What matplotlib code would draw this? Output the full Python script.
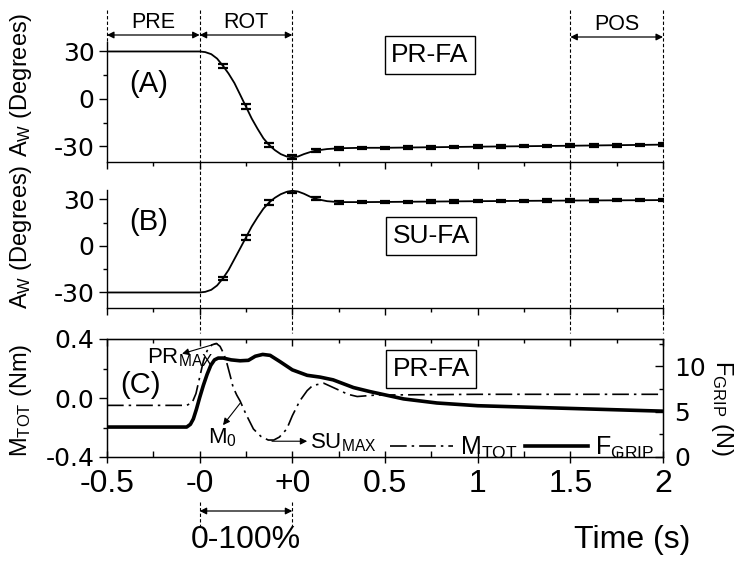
import matplotlib
matplotlib.use('Agg')
import matplotlib.pyplot as plt
from matplotlib import font_manager
from matplotlib.lines import Line2D
from matplotlib.transforms import blended_transform_factory
from matplotlib.ticker import FixedLocator


def has_font(name):
    try:
        font_manager.findfont(name, fallback_to_default=False)
        return True
    except ValueError:
        return False


narrow = 'Liberation Sans Narrow' if has_font('Liberation Sans Narrow') else 'Liberation Sans'

plt.rcParams['font.family'] = ['Liberation Sans', 'DejaVu Sans']
plt.rcParams['mathtext.default'] = 'regular'

# x is the position on the common axis: PRE (-0.5..-0 s) -> 0..0.5,
# ROT (0-100 %) -> 0.5..1.0, POS time (+0..2 s) -> 1.0..3.0
x_ticks = [0, 0.5, 1.0, 1.5, 2.0, 2.5, 3.0]
x_minor = [0.25, 0.75, 1.25, 1.75, 2.25, 2.75]
x_labels = ['-0.5', '-0', '+0', '0.5', '1', '1.5', '2']
phase_edges = [0, 0.5, 1.0, 2.5, 3.0]
phase_names = ['PRE', 'ROT', 'POS']
phase_spans = [(0, 0.5), (0.5, 1.0), (2.5, 3.0)]

# (A) PR-FA wrist angle, mean curve
a_x = [0, 0.5, 0.53, 0.5625, 0.594, 0.625, 0.656, 0.6875, 0.719, 0.75, 0.781,
       0.8125, 0.844, 0.875, 0.906, 0.9375, 0.969, 1.0, 1.031, 1.0625, 1.094,
       1.125, 1.1875, 1.25, 1.375, 1.5, 2.0, 2.5, 3.0]
a_y = [30, 30, 29.6, 28.3, 25.5, 21, 16, 10, 2.5, -5, -12.5,
       -19, -25, -29.3, -32.5, -35, -36.5, -37, -36.5, -35, -33.8,
       -32.8, -31.8, -31.3, -31, -31, -30.3, -29.7, -29]

# (B) SU-FA wrist angle, mean curve
b_x = a_x
b_y = [-30, -30, -29.6, -28.3, -25.5, -21, -15.5, -8.5, -1.5, 5.5, 12.5,
       18.5, 24, 28, 31, 33.3, 34.8, 35.5, 35, 33.6, 31.8,
       30.3, 28.8, 28.2, 28.2, 28.3, 28.8, 29.2, 29.5]

# error bar samples
bar_x = [0.625, 0.75, 0.875, 1.0, 1.125, 1.25, 1.375, 1.5, 1.625, 1.75,
         1.875, 2.0, 2.125, 2.25, 2.375, 2.5, 2.625, 2.75, 2.875, 3.0]
a_bar = [21, -5, -29.3, -37, -32.8, -31.3, -31, -31, -30.8, -30.7,
         -30.5, -30.3, -30.2, -30, -29.9, -29.7, -29.5, -29.4, -29.2, -29]
a_err = [1.2, 1.5, 1.5, 1.3, 1.0, 0.9, 0.8, 0.8, 0.8, 0.8,
         0.8, 0.8, 0.8, 0.8, 0.8, 0.8, 0.8, 0.8, 0.8, 0.8]
b_bar = [-21, 5.5, 28, 35.5, 30.3, 28.2, 28.2, 28.3, 28.4, 28.5,
         28.6, 28.8, 28.9, 29, 29.1, 29.2, 29.3, 29.4, 29.4, 29.5]
b_err = a_err

# (C) total moment (Nm) and grip force (N)
m_x = [0, 0.43, 0.46, 0.48, 0.5, 0.52, 0.54, 0.565, 0.59, 0.61, 0.63, 0.646,
       0.665, 0.68, 0.7, 0.718, 0.75, 0.79, 0.83, 0.87, 0.9, 0.93, 0.97, 1.0,
       1.04, 1.08, 1.11, 1.17, 1.24, 1.3, 1.35, 1.45, 2.0, 3.0]
m_y = [-0.05, -0.05, -0.03, 0.03, 0.14, 0.25, 0.32, 0.36, 0.37, 0.35, 0.3, 0.24,
       0.15, 0.075, 0.02, -0.02, -0.11, -0.21, -0.26, -0.285, -0.285, -0.265, -0.21, -0.12,
       -0.02, 0.05, 0.085, 0.1, 0.06, 0.025, 0.01, 0.02, 0.025, 0.025]
f_x = [0, 0.43, 0.45, 0.466, 0.483, 0.5, 0.52, 0.54, 0.56, 0.58, 0.6, 0.627,
       0.67, 0.718, 0.763, 0.8, 0.84, 0.88, 0.934, 1.0, 1.08, 1.15, 1.22, 1.33,
       1.42, 1.6, 1.78, 2.0, 2.5, 3.0]
f_y = [3.3, 3.3, 3.6, 4.2, 5.3, 6.55, 7.9, 9.1, 10.1, 10.7, 10.9, 10.9,
       10.7, 10.6, 10.65, 11.1, 11.3, 11.2, 10.5, 9.6, 9.0, 8.8, 8.5, 7.65,
       7.2, 6.4, 5.95, 5.65, 5.35, 5.05]

fig = plt.figure(figsize=(7.41, 5.61), dpi=100)
L, W = 107 / 741, 556 / 741
axA = fig.add_axes([L, 1 - 162 / 561, W, 120 / 561])
axB = fig.add_axes([L, 1 - 308 / 561, W, 118 / 561])
axC = fig.add_axes([L, 1 - 457 / 561, W, 118 / 561])
axF = axC.twinx()

ytick_font = dict(family='DejaVu Sans', size=18)

for ax in (axA, axB, axC):
    ax.set_xlim(0, 3)
    ax.xaxis.set_major_locator(FixedLocator(x_ticks))
    ax.xaxis.set_minor_locator(FixedLocator(x_minor))
    ax.tick_params(axis='y', which='major', direction='out', length=6, width=1, pad=3)
    ax.tick_params(axis='y', which='minor', direction='out', length=3, width=1)
    for s in ax.spines.values():
        s.set_linewidth(1)

for ax, y, bar, err, name, lab, lab_y, ylab_y in (
        (axA, a_y, a_bar, a_err, 'PR-FA', '(A)', 0.65, 0.64),
        (axB, b_y, b_bar, b_err, 'SU-FA', '(B)', 0.73, 0.6)):
    ax.plot(a_x, y, color='black', lw=1.3)
    ax.errorbar(bar_x, bar, yerr=err, fmt='none', ecolor='black', elinewidth=1,
                capsize=3.5, capthick=1.6)
    ax.set_ylim(-40, 36)
    ax.set_yticks([-30, 0, 30])
    ax.set_yticklabels(['-30', '0', '30'], fontdict=ytick_font)
    ax.set_yticks([-15, 15], minor=True)
    ax.spines['top'].set_visible(False)
    ax.spines['right'].set_visible(False)
    ax.tick_params(axis='x', which='both', direction='out', labelbottom=False, top=False)
    ax.tick_params(axis='x', which='major', length=5, width=1)
    ax.tick_params(axis='x', which='minor', length=3, width=1)
    ax.set_ylabel('A$_W$ (Degrees)', fontsize=17, va='center')
    ax.yaxis.set_label_coords(-0.155, ylab_y)
    ax.text(0.075, lab_y, lab, transform=ax.transAxes, ha='center', va='center', fontsize=21)

axA.text(0.581, 0.892, 'PR-FA', transform=axA.transAxes, ha='center', va='center',
         fontsize=19, clip_on=False,
         bbox=dict(boxstyle='square,pad=0.25', fc='white', ec='black', lw=1))
axB.text(0.583, 0.61, 'SU-FA', transform=axB.transAxes, ha='center', va='center',
         fontsize=19, bbox=dict(boxstyle='square,pad=0.25', fc='white', ec='black', lw=1))

# (C)
lm, = axC.plot(m_x, m_y, color='black', lw=1.2, ls=(0, (10, 3, 1.5, 3)))
lf, = axF.plot(f_x, f_y, color='black', lw=2.6)
axC.set_ylim(-0.4, 0.4)
axC.set_yticks([-0.4, 0, 0.4])
axC.set_yticklabels(['-0.4', '0.0', '0.4'], fontdict=ytick_font)
axC.set_yticks([-0.2, 0.2], minor=True)
axC.set_xticklabels(x_labels, family=narrow, fontsize=23)
axC.tick_params(axis='x', which='major', direction='inout', length=9, width=1, pad=4)
axC.tick_params(axis='x', which='minor', direction='in', length=4, width=1)
top = axC.secondary_xaxis('top')
top.xaxis.set_major_locator(FixedLocator(x_ticks))
top.xaxis.set_minor_locator(FixedLocator(x_minor))
top.tick_params(axis='x', which='both', direction='in', labeltop=False, width=1)
top.tick_params(axis='x', which='major', length=5)
top.tick_params(axis='x', which='minor', length=3)
axC.set_ylabel('M$_{TOT}$ (Nm)', fontsize=17, va='center')
axC.yaxis.set_label_coords(-0.155, 0.48)

axF.set_ylim(0, 13)
axF.set_yticks([0, 5, 10])
axF.set_yticklabels(['0', '5', '10'], fontdict=ytick_font)
axF.set_yticks([2.5, 7.5, 12.5], minor=True)
axF.tick_params(axis='y', which='major', direction='in', length=6, width=1, pad=8)
axF.tick_params(axis='y', which='minor', direction='in', length=3, width=1)
axF.set_ylabel('F$_{GRIP}$ (N)', fontsize=17, rotation=270, va='center')
axF.yaxis.set_label_coords(1.106, 0.42)

axC.text(0.06, 0.61, '(C)', transform=axC.transAxes, ha='center', va='center', fontsize=21)
axF.text(0.583, 0.746, 'PR-FA', transform=axF.transAxes, ha='center', va='center',
         fontsize=19, bbox=dict(boxstyle='square,pad=0.25', fc='white', ec='black', lw=1))

arrow = dict(arrowstyle='-|>', color='black', lw=0.8, mutation_scale=10, shrinkA=0, shrinkB=0)
axC.annotate('', xy=(0.405, 0.30), xytext=(0.594, 0.37), arrowprops=arrow)
axC.text(0.216, 0.275, 'PR$_{MAX}$', ha='left', va='center', fontsize=16)
axC.annotate('', xy=(0.626, -0.184), xytext=(0.718, -0.036), arrowprops=arrow)
axC.text(0.545, -0.27, 'M$_0$', ha='left', va='center', fontsize=16)
axC.annotate('', xy=(1.08, -0.293), xytext=(0.89, -0.293), arrowprops=arrow)
axC.text(1.096, -0.30, 'SU$_{MAX}$', ha='left', va='center', fontsize=16)

axF.legend([lm, lf], ['M$_{TOT}$', 'F$_{GRIP}$'], ncol=2, loc='lower right',
           bbox_to_anchor=(0.985, -0.03), frameon=False, fontsize=18,
           handlelength=2.5, handletextpad=0.3, columnspacing=0.3,
           borderpad=0, borderaxespad=0)

# phase markers above the panels
blend = blended_transform_factory(axA.transData, fig.transFigure)
for u in phase_edges:
    y_end = 1 - 42 / 561 if u == 0 else 1 - 333 / 561
    fig.add_artist(Line2D([u, u], [1 - 10 / 561, y_end], transform=blend,
                          color='black', lw=0.8, ls=(0, (3, 2))))
two_head = dict(arrowstyle='<|-|>', color='black', lw=0.9, mutation_scale=10,
                shrinkA=0, shrinkB=0)
for (a, b), name in zip(phase_spans, phase_names):
    y_arrow = 1 - (37 if name == 'POS' else 35) / 561
    y_text = 1 - (25 if name == 'POS' else 22) / 561
    axA.annotate('', xy=(a, y_arrow), xytext=(b, y_arrow), xycoords=blend,
                 textcoords=blend, arrowprops=two_head, annotation_clip=False)
    axA.text((a + b) / 2, y_text, name, transform=blend, ha='center', va='center',
             fontsize=15.5)

# ROT = 0-100 % marker below the time axis
for u in phase_spans[1]:
    fig.add_artist(Line2D([u, u], [1 - 502 / 561, 1 - 527 / 561], transform=blend,
                          color='black', lw=0.8, ls=(0, (3, 2))))
axA.annotate('', xy=(phase_spans[1][0], 1 - 511 / 561), xytext=(phase_spans[1][1], 1 - 511 / 561),
             xycoords=blend, textcoords=blend, arrowprops=two_head, annotation_clip=False)
axA.text(0.75, 1 - 540 / 561, '0-100%', transform=blend, ha='center', va='center',
         family=narrow, fontsize=23)
fig.text(690 / 741, 1 - 540 / 561, 'Time (s)', ha='right', va='center',
         family=narrow, fontsize=23)

fig.savefig('out.png', dpi=100)
